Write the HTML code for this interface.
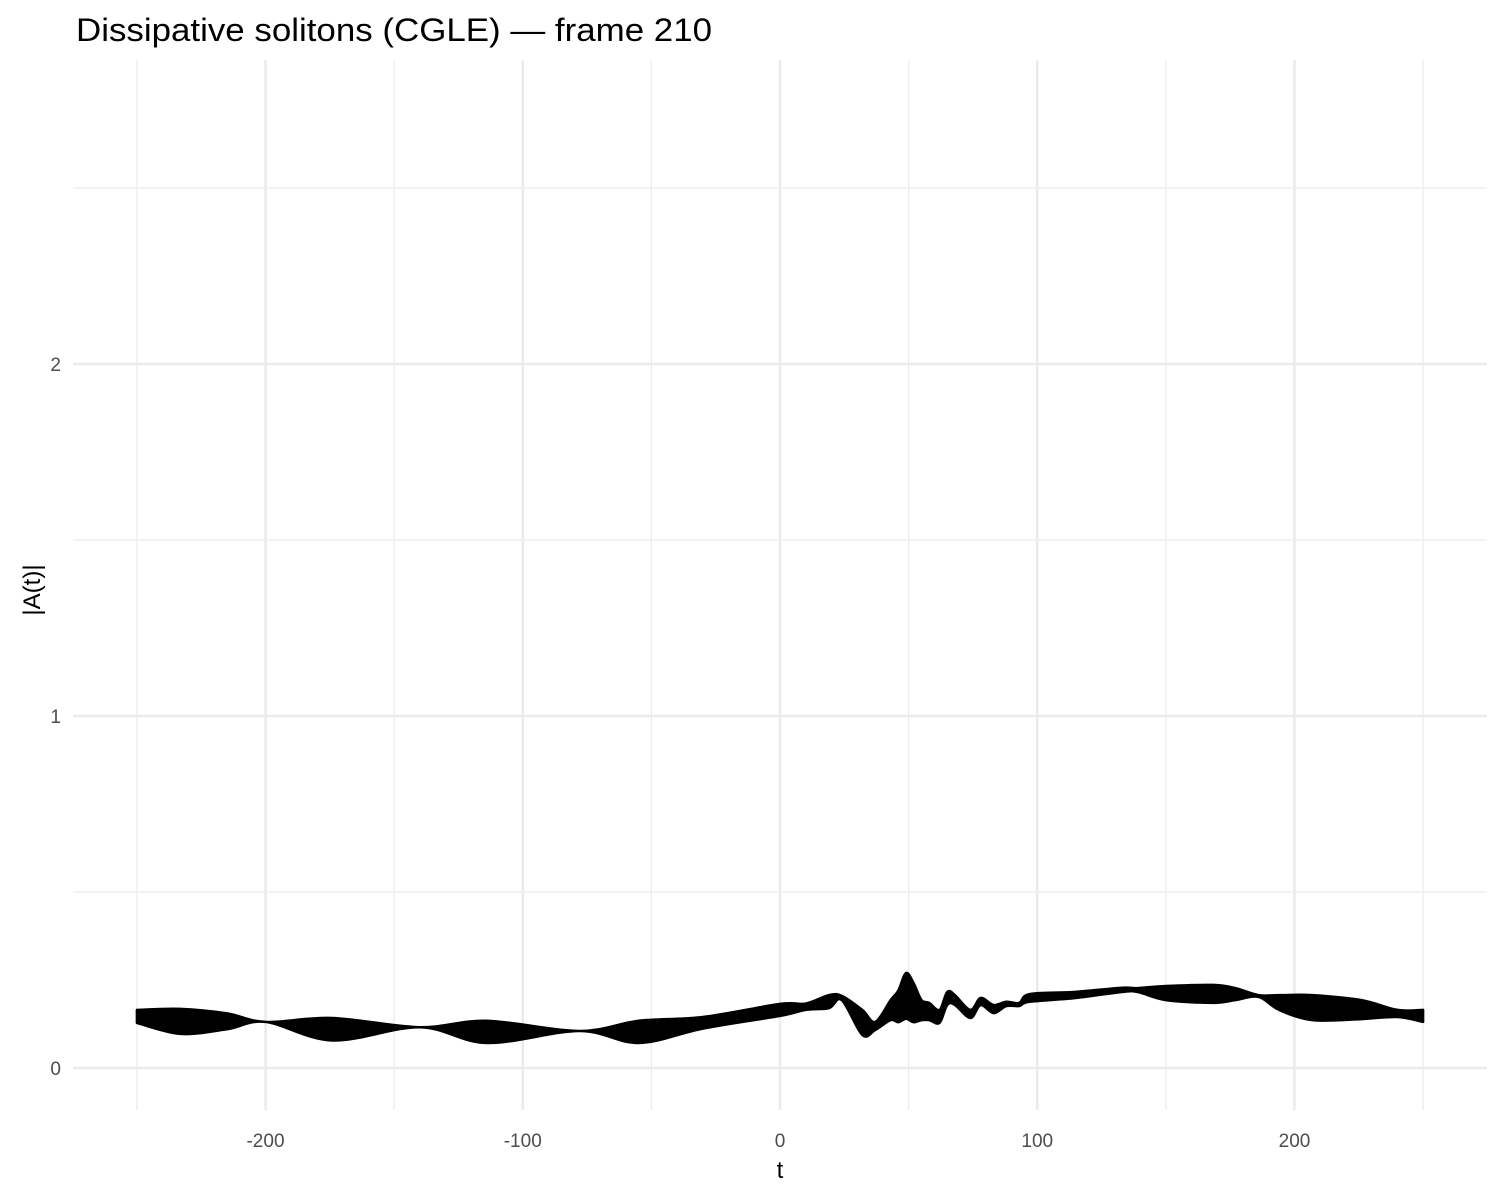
<!DOCTYPE html>
<html><head><meta charset="utf-8"><style>
html,body{margin:0;padding:0;background:#fff;}
svg{display:block;font-family:"Liberation Sans",sans-serif;}
</style></head><body>
<svg id="chart" width="1500" height="1200" viewBox="0 0 1500 1200" xmlns="http://www.w3.org/2000/svg">
<rect width="1500" height="1200" fill="#fff"/>
<g id="grid"></g>
<g id="band"></g>
<g id="axes"></g>
<text x="76" y="41" font-size="32" textLength="636" lengthAdjust="spacingAndGlyphs" fill="#000">Dissipative solitons (CGLE) — frame 210</text>
<text x="780" y="1178" font-size="24" text-anchor="middle" fill="#000">t</text>
<text transform="translate(40,590) rotate(-90)" font-size="24" text-anchor="middle" fill="#000">|A(t)|</text>
</svg>
<script>
const tValues = [-250,-233,-215,-200,-174,-140,-114,-78,-55,-30,0,10,19,24,32,37,43,46,49,52,55,58,62,65,68,74,78,83,88,93,97,114,133,139,150,168,177,186,194,207,226,240,250];
const upperEnvelope = [.165,.168,.155,.131,.142,.116,.134,.105,.134,.145,.182,.183,.207,.205,.165,.131,.193,.22,.27,.24,.193,.185,.165,.216,.207,.165,.199,.179,.188,.185,.210,.216,.228,.227,.233,.236,.227,.207,.207,.207,.193,.165,.165];
const lowerEnvelope = [.128,.097,.110,.131,.078,.116,.071,.105,.071,.112,.148,.165,.170,.193,.094,.108,.136,.13,.14,.13,.136,.136,.128,.179,.179,.142,.179,.156,.176,.176,.188,.198,.216,.216,.193,.185,.193,.202,.165,.136,.139,.145,.131];
const xMajor = [-200,-100,0,100,200];
const xMinor = [-250,-150,-50,50,150,250];
const yMajor = [0,1,2];
const yMinor = [0.5,1.5,2.5];
const xTickLabels = ["-200","-100","0","100","200"];
const yTickLabels = ["0","1","2"];

const X0=73, X1=1487, Y0=60, Y1=1110;
const xs = t => 780 + t*2.5725;
const ys = v => 1068 - v*352;
const NS="http://www.w3.org/2000/svg";
function mk(tag, attrs, parent){const e=document.createElementNS(NS,tag);for(const k in attrs)e.setAttribute(k,attrs[k]);parent.appendChild(e);return e;}
const grid=document.getElementById('grid'), band=document.getElementById('band'), axes=document.getElementById('axes');
yMinor.forEach(v=>{const l=mk('line',{x1:X0,x2:X1,y1:ys(v),y2:ys(v),stroke:'#ebebeb','stroke-width':1.2},grid);

});
xMinor.forEach(v=>{const l=mk('line',{x1:xs(v),x2:xs(v),y1:Y0,y2:Y1,stroke:'#ebebeb','stroke-width':1.2},grid);

});
yMajor.forEach((v,i)=>{const l=mk('line',{x1:X0,x2:X1,y1:ys(v),y2:ys(v),stroke:'#ebebeb','stroke-width':2.5},grid);


const t=mk('text',{x:61,y:ys(v)+7,'font-size':19,'text-anchor':'end',fill:'#4d4d4d'},axes);t.textContent=yTickLabels[i];

});
xMajor.forEach((v,i)=>{const l=mk('line',{x1:xs(v),x2:xs(v),y1:Y0,y2:Y1,stroke:'#ebebeb','stroke-width':2.5},grid);


const t=mk('text',{x:xs(v),y:1147,'font-size':19,'text-anchor':'middle',fill:'#4d4d4d'},axes);t.textContent=xTickLabels[i];

});
function smooth(pts, first){
  let d=first?('M'+pts[0][0].toFixed(1)+','+pts[0][1].toFixed(1)):('L'+pts[0][0].toFixed(1)+','+pts[0][1].toFixed(1));
  for(let i=0;i<pts.length-1;i++){
    const p0=pts[Math.max(i-1,0)],p1=pts[i],p2=pts[i+1],p3=pts[Math.min(i+2,pts.length-1)];
    const c1=[p1[0]+(p2[0]-p0[0])/6,p1[1]+(p2[1]-p0[1])/6];
    const c2=[p2[0]-(p3[0]-p1[0])/6,p2[1]-(p3[1]-p1[1])/6];
    d+='C'+c1[0].toFixed(1)+','+c1[1].toFixed(1)+' '+c2[0].toFixed(1)+','+c2[1].toFixed(1)+' '+p2[0].toFixed(1)+','+p2[1].toFixed(1);
  }
  return d;
}
const up=tValues.map((t,i)=>[xs(t),ys(upperEnvelope[i])]);
const lo=tValues.map((t,i)=>[xs(t),ys(lowerEnvelope[i])]).reverse();
const d=smooth(up,true)+smooth(lo,false)+'Z';
const p=mk('path',{d:d,fill:'#000',stroke:'#000','stroke-width':2.5,'stroke-linejoin':'round'},band);


</script>
</body></html>
